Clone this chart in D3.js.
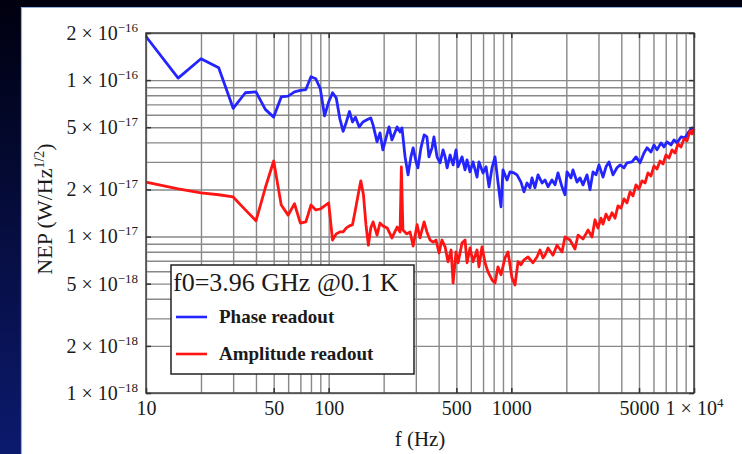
<!DOCTYPE html>
<html>
<head>
<meta charset="utf-8">
<script src="https://cdn.jsdelivr.net/npm/d3@7"></script>
<style>
  html, body { margin: 0; padding: 0; overflow: hidden; background: #000016; }
  svg { display: block; }
  text { font-family: "Liberation Serif", "Times New Roman", serif; fill: #1a1a1a; }
</style>
</head>
<body>
<svg id="chart" width="742" height="454"></svg>
<script>
// NEP spectra of a 3.96 GHz resonator at 0.1 K, phase vs amplitude readout.
// NEP values are in units of 1e-18 W/Hz^1/2.
const NEP_UNIT = 1e-18;

const phaseFreq = [10, 15, 20, 25, 30, 35, 40, 45, 50, 55, 60, 65, 70, 75, 80, 85, 90, 95, 100, 105,
  110, 115, 120, 125, 130, 135, 140, 147, 154, 162, 170, 175, 184, 191, 198, 214, 222, 237, 246, 252,
  262, 272, 282, 290, 301, 308, 320, 333, 345, 354, 368, 377, 392, 407, 423, 434, 445, 462, 480, 498,
  511, 537, 558, 572, 594, 617, 649, 665, 700, 727, 755, 784, 814, 845, 878, 900, 947, 983, 1034, 1074,
  1129, 1173, 1218, 1265, 1297, 1347, 1400, 1472, 1529, 1588, 1669, 1734, 1801, 1894, 1967, 2017, 2121, 2175, 2288, 2376,
  2468, 2596, 2696, 2799, 2907, 3019, 3176, 3298, 3425, 3602, 3788, 3935, 4138, 4297, 4576, 4813, 5064, 5324, 5530, 5815,
  6038, 6272, 6597, 6849, 7114, 7482, 7771, 8069, 8487, 8927, 9271, 9750, 10000];
const phaseNEP = [190, 103, 137, 120, 66, 83, 84, 65, 58, 78, 79, 84, 86, 87, 105, 102, 88, 59, 72.5, 83,
  77, 57, 47, 54, 63, 54, 58, 50.2, 54, 55.7, 57.3, 51.7, 40.3, 46, 35.8, 50.2, 41.5, 50.2, 46.6, 49.5,
  32.3, 24.8, 32.3, 36.9, 30, 27.5, 36.9, 44.6, 43.3, 32.3, 36.9, 43.3, 32.3, 29.6, 35.8, 32.3, 27.5, 33.2, 28.7, 35.8,
  27.9, 32.3, 26.7, 30.9, 25.9, 30, 24, 30, 25.5, 27.9, 20.8, 27.5, 32.3, 22.3, 15.5, 26.7, 23, 25.9, 25.5, 24.8,
  22.3, 19.3, 22, 20.5, 23.7, 20.5, 24.8, 22, 23, 20.8, 23, 21.4, 25.5, 20.8, 18.5, 25.9, 23.7, 26.7, 22.3, 23.7,
  21.4, 24.8, 19.9, 25.9, 24.8, 28.7, 24, 27.9, 30, 24.8, 27.5, 28.7, 27.5, 29.6, 30, 32.3, 29.6, 34.2, 36.9, 34.7,
  38.5, 35.8, 39.7, 37.4, 40.3, 38.5, 41.5, 39.7, 43.3, 42.7, 46, 49.5, 48.8];

const ampFreq = [10, 15, 20, 25, 30, 35, 40, 45, 50, 55, 60, 65, 70, 75, 80, 85, 90, 95, 100, 105,
  110, 115, 120, 125, 130, 135, 140, 145, 150, 155, 160, 165, 170, 175, 184, 191, 198, 209, 222, 237,
  246, 250, 255, 268, 279, 290, 305, 316, 333, 345, 359, 373, 387, 402, 417, 434, 450, 468, 480, 498,
  511, 537, 558, 572, 594, 617, 649, 665, 691, 718, 745, 784, 814, 845, 878, 923, 959, 1008, 1047, 1088,
  1129, 1173, 1234, 1314, 1382, 1435, 1491, 1529, 1588, 1690, 1778, 1894, 1967, 2095, 2231, 2317, 2468, 2629, 2764, 2871,
  2981, 3096, 3176, 3298, 3425, 3557, 3694, 3836, 3984, 4138, 4297, 4464, 4634, 4813, 5000, 5193, 5393, 5600, 5815, 6038,
  6272, 6517, 6766, 7026, 7298, 7578, 7870, 8173, 8487, 8814, 9156, 9509, 9750, 10000];
const ampNEP = [22.3, 20.2, 19, 18.5, 17.9, 14.8, 12.6, 20.5, 30.4, 15.9, 13.7, 16.2, 12.2, 12.4, 15.9, 14.8, 15, 15.7, 16.4, 9.5,
  10.4, 10.7, 10.7, 11.35, 11.7, 11.9, 14.8, 18.5, 22.7, 18.5, 11.9, 8.8, 11.35, 12.4, 10.2, 12.2, 11.7, 11.35, 9.8, 11.5,
  10.7, 27.9, 11, 10.4, 10.7, 8.7, 11.9, 9.8, 12.4, 10.7, 9.5, 9.2, 9.5, 7.85, 9.5, 8.6, 6.9, 8.2, 5.05, 7.97,
  6.8, 9.1, 9.5, 6.8, 8.45, 6.9, 8.2, 6.4, 8.6, 6.8, 5.94, 5.28, 5.05, 6.4, 5.7, 7.3, 7.97, 5.44, 4.9, 6.9,
  6.6, 7.1, 7.4, 6.8, 7.4, 8.2, 7.3, 7.6, 8.45, 7.6, 8.8, 7.97, 9.94, 9.5, 8.33, 10.2, 9.65, 11, 9.94, 12.8,
  11.35, 13.1, 12, 13.9, 12.8, 14.2, 13.1, 15.7, 15.2, 17.4, 16.4, 19.3, 18.2, 21.4, 20.2, 22.7, 22, 25.5, 24.4, 28.3,
  27, 30.4, 29.1, 33.2, 31.8, 35.8, 34.2, 39.1, 37.4, 42.1, 40.9, 47.3, 45.3, 48.8];

const xTicks = [10, 50, 100, 500, 1000, 5000, 10000];
const yTicks = [1e-18, 2e-18, 5e-18, 1e-17, 2e-17, 5e-17, 1e-16, 2e-16];
const seriesNames = ["Phase readout", "Amplitude readout"];
const seriesColors = ["#2424ff", "#ff1414"];
const legendTitle = "f0=3.96 GHz @0.1 K";

const svg = d3.select("#chart");
const W = 742, H = 454;
const plot = { left: 146, right: 694, top: 33, bottom: 393 };

// ---- slide-style backdrop ----
const defs = svg.append("defs");
const bg = defs.append("linearGradient").attr("id", "bgGrad")
  .attr("x1", 0).attr("y1", 0).attr("x2", 0).attr("y2", 1);
bg.append("stop").attr("offset", "0%").attr("stop-color", "#00000f");
bg.append("stop").attr("offset", "100%").attr("stop-color", "#0c1a6e");
svg.append("rect").attr("width", W).attr("height", H).attr("fill", "url(#bgGrad)");
svg.append("rect").attr("x", 21).attr("y", 7).attr("width", W - 21).attr("height", H - 7).attr("fill", "#ffffff");
svg.append("path").attr("d", `M21.5,${H}V7.5H${W}`).attr("fill", "none")
  .attr("stroke", "#8fb2de").attr("stroke-width", 1.2);

// ---- scales ----
const x = d3.scaleLog().domain([10, 1e4]).range([plot.left, plot.right]);
const y = d3.scaleLog().domain([1e-18, 2e-16]).range([plot.bottom, plot.top]);

// grid at every 1..9 multiple of each decade
const xGrid = [];
[10, 100, 1000].forEach(d => { for (let k = 1; k <= 9; k++) xGrid.push(k * d); });
xGrid.push(1e4);
const yGrid = [];
[1e-18, 1e-17].forEach(d => { for (let k = 1; k <= 9; k++) yGrid.push(k * d); });
yGrid.push(1e-16, 2e-16);

const gridColor = "#888888";
const gx = svg.append("g").attr("transform", `translate(0,${plot.bottom})`)
  .call(d3.axisBottom(x).tickValues(xGrid).tickSize(-(plot.bottom - plot.top)).tickFormat(""));
const gy = svg.append("g").attr("transform", `translate(${plot.left},0)`)
  .call(d3.axisLeft(y).tickValues(yGrid).tickSize(-(plot.right - plot.left)).tickFormat(""));
[gx, gy].forEach(g => {
  g.select(".domain").remove();
  g.selectAll("line").attr("stroke", gridColor).attr("stroke-width", 1.4);
});

// ---- curves ----
const line = d3.line().x(d => x(d[0])).y(d => y(d[1] * NEP_UNIT));
const phase = phaseFreq.map((f, i) => [f, phaseNEP[i]]);
const amp = ampFreq.map((f, i) => [f, ampNEP[i]]);
const curves = svg.append("g");
[phase, amp].forEach((data, i) => {
  curves.append("path").datum(data).attr("d", line)
    .attr("fill", "none").attr("stroke", seriesColors[i])
    .attr("stroke-width", 2.8).attr("stroke-linejoin", "round");
});

// ---- frame and axes ----
svg.append("rect").attr("x", plot.left).attr("y", plot.top)
  .attr("width", plot.right - plot.left).attr("height", plot.bottom - plot.top)
  .attr("fill", "none").attr("stroke", "#444").attr("stroke-width", 1.5);

const sup = (sel, base, exp) => {
  sel.text(null);
  sel.append("tspan").text(base);
  if (exp !== null) sel.append("tspan").attr("dy", -8).attr("font-size", 13).text(exp);
};

function styleAxis(g) {
  g.select(".domain").remove();
  g.selectAll("line").attr("stroke", "#333").attr("stroke-width", 1.5);
  g.selectAll("text").attr("font-family", "Liberation Serif, serif").attr("font-size", 20).attr("fill", "#1a1a1a");
}

const axB = svg.append("g").attr("transform", `translate(0,${plot.bottom})`)
  .call(d3.axisBottom(x).tickValues(xTicks).tickSizeInner(-5).tickSizeOuter(0).tickPadding(8));
styleAxis(axB);
axB.selectAll("text").each(function (d) {
  const e = Math.round(Math.log10(d));
  if (d >= 1e4) sup(d3.select(this), "1 \u00d7 10", String(e));
  else sup(d3.select(this), String(d), null);
});
const axT = svg.append("g").attr("transform", `translate(0,${plot.top})`)
  .call(d3.axisTop(x).tickValues(xTicks).tickSizeInner(-5).tickSizeOuter(0).tickFormat(""));
styleAxis(axT);

const axL = svg.append("g").attr("transform", `translate(${plot.left},0)`)
  .call(d3.axisLeft(y).tickValues(yTicks).tickSizeInner(-5).tickSizeOuter(0).tickPadding(8));
styleAxis(axL);
axL.selectAll("text").each(function (d) {
  const e = Math.floor(Math.log10(d) + 1e-9);
  const m = Math.round(d / Math.pow(10, e));
  sup(d3.select(this), `${m} \u00d7 10`, "\u2212" + (-e));
});
const axR = svg.append("g").attr("transform", `translate(${plot.right},0)`)
  .call(d3.axisRight(y).tickValues(yTicks).tickSizeInner(-5).tickSizeOuter(0).tickFormat(""));
styleAxis(axR);

// ---- axis titles ----
svg.append("text").attr("x", (plot.left + plot.right) / 2).attr("y", 446)
  .attr("text-anchor", "middle").attr("font-size", 21).text("f (Hz)");
const yt = svg.append("text").attr("transform", "translate(52,209) rotate(-90)")
  .attr("text-anchor", "middle").attr("font-size", 22);
yt.append("tspan").text("NEP (W/Hz");
yt.append("tspan").attr("dy", -8).attr("font-size", 14).text("1/2");
yt.append("tspan").attr("dy", 8).text(")");

// ---- legend ----
const lg = svg.append("g");
lg.append("rect").attr("x", 171).attr("y", 265).attr("width", 243).attr("height", 109)
  .attr("fill", "#fff").attr("stroke", "#222").attr("stroke-width", 1.5);
lg.append("text").attr("x", 173).attr("y", 291).attr("font-size", 26).text(legendTitle);
seriesNames.forEach((name, i) => {
  const yy = 317 + i * 37;
  lg.append("line").attr("x1", 176).attr("x2", 207).attr("y1", yy).attr("y2", yy)
    .attr("stroke", seriesColors[i]).attr("stroke-width", 2.6);
  lg.append("text").attr("x", 219).attr("y", yy + 6).attr("font-size", 19)
    .attr("font-weight", "bold").text(name);
});
</script>
</body>
</html>
